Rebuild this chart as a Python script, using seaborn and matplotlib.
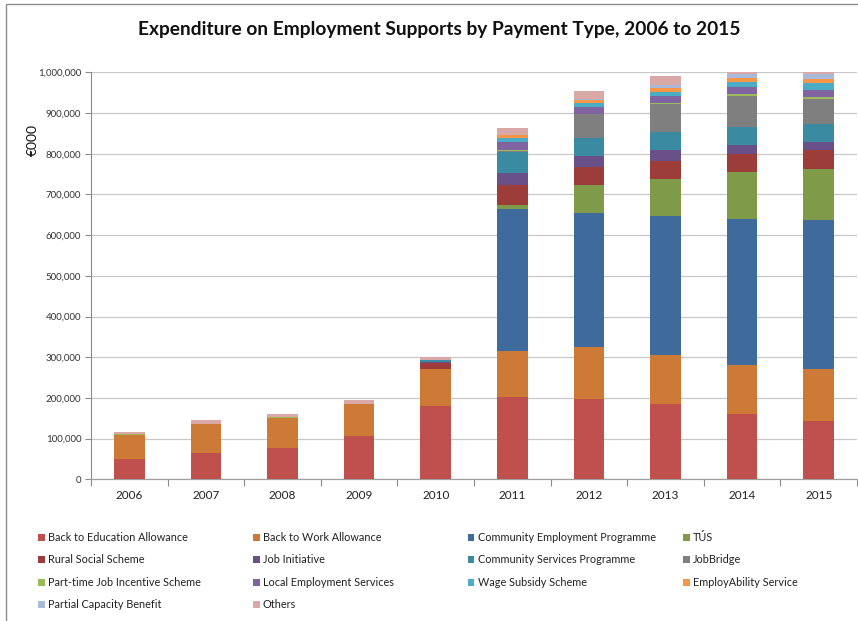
import matplotlib
matplotlib.use("Agg")
import matplotlib.pyplot as plt
import seaborn as sns
import numpy as np
from matplotlib.patches import Patch, Rectangle
from matplotlib.ticker import FuncFormatter, FixedLocator

years = ["2006", "2007", "2008", "2009", "2010", "2011", "2012", "2013", "2014", "2015"]

series_names = [
    "Back to Education Allowance", "Back to Work Allowance", "Community Employment Programme", "TÚS",
    "Rural Social Scheme", "Job Initiative", "Community Services Programme", "JobBridge",
    "Part-time Job Incentive Scheme", "Local Employment Services", "Wage Subsidy Scheme", "EmployAbility Service",
    "Partial Capacity Benefit", "Others",
]

back_to_education = [50000, 64000, 78000, 107000, 180500, 201600, 198000, 186000, 161500, 143400]
back_to_work      = [59000, 71000, 73000, 77500, 91500, 114000, 128000, 120000, 119500, 128600]
community_employment = [0, 0, 0, 0, 0, 348400, 329000, 340000, 359000, 365800]
tus               = [0, 0, 0, 0, 0, 10700, 67400, 92800, 115000, 125700]
rural_social      = [0, 0, 0, 0, 13000, 47700, 45200, 44200, 45000, 45000]
job_initiative    = [0, 0, 0, 0, 2800, 29600, 26200, 25600, 22500, 20500]
community_services = [0, 0, 0, 0, 5700, 51000, 46000, 44400, 43000, 43500]
jobbridge         = [0, 0, 0, 0, 0, 4000, 56700, 68000, 76500, 62500]
part_time_jis     = [2500, 2000, 1500, 1500, 0, 3000, 1500, 3400, 3500, 3500]
local_employment  = [0, 0, 0, 0, 0, 18500, 15800, 17300, 17500, 19000]
wage_subsidy      = [0, 0, 0, 0, 0, 9500, 10600, 10700, 13500, 16000]
employability     = [0, 0, 0, 0, 0, 7000, 8200, 9800, 9500, 10000]
partial_capacity  = [0, 0, 0, 0, 0, 0, 1400, 7400, 10000, 12000]
others            = [5000, 9000, 9000, 9000, 6500, 19000, 20800, 22200, 7000, 6500]

series_values = [
    back_to_education, back_to_work, community_employment, tus,
    rural_social, job_initiative, community_services, jobbridge,
    part_time_jis, local_employment, wage_subsidy, employability,
    partial_capacity, others,
]

colors = [
    "#C0504D", "#CC7A36", "#3F6A9C", "#7F9A48",
    "#9C3D3A", "#6A5088", "#3A8BA2", "#7F7F7F",
    "#9BBB59", "#8064A2", "#4BACC6", "#F79646",
    "#A9B9DA", "#DBA8A8",
]

yticks = list(range(0, 1000001, 100000))

sns.set_theme(style="white")
FONT = ["Lato", "DejaVu Sans"]
plt.rcParams["font.family"] = FONT

fig = plt.figure(figsize=(8.58, 6.21), dpi=100)
ax = fig.add_axes([91 / 858, 1 - 479.3 / 621, 766 / 858, (479.3 - 72.3) / 621])

bottom = np.zeros(len(years))
for name, vals, col in zip(series_names, series_values, colors):
    sns.barplot(x=years, y=vals, bottom=bottom, color=col, saturation=1,
                width=0.4, errorbar=None, ax=ax, linewidth=0, zorder=3)
    bottom = bottom + np.array(vals, dtype=float)

ax.set_xlim(-0.5, len(years) - 0.5)
ax.set_ylim(0, 1000000)
ax.yaxis.set_major_locator(FixedLocator(yticks))
ax.yaxis.set_major_formatter(FuncFormatter(lambda v, p: f"{int(v):,}"))
ax.grid(axis="y", color="#C8C8C8", linewidth=0.9, zorder=0)
ax.grid(axis="x", visible=False)
ax.set_axisbelow(True)
ax.set_xlabel("")
ax.set_ylabel("")

for s in ["top", "right"]:
    ax.spines[s].set_visible(False)
ax.spines["left"].set_color("#8C8C8C")
ax.spines["left"].set_linewidth(0.8)
ax.spines["bottom"].set_color("#A0A0A0")
ax.spines["bottom"].set_linewidth(0.9)

ax.tick_params(axis="y", which="major", length=4, width=0.8, color="#8C8C8C",
               labelsize=7, labelcolor="#333333", pad=3, left=True)
ax.tick_params(axis="x", which="major", length=0, labelsize=8.5, labelcolor="#222222", pad=8)
ax.set_xticks(np.arange(-0.5, len(years), 1.0), minor=True)
ax.tick_params(axis="x", which="minor", length=5, width=0.8, color="#8C8C8C", bottom=True)

fig.text(439.5 / 858, 1 - 29 / 621, "Expenditure on Employment Supports by Payment Type, 2006 to 2015",
         ha="center", va="center", fontsize=13.8, fontweight="bold", color="#111111")
fig.text(33 / 858, 1 - 140 / 621, "€000", rotation=90, ha="center", va="center",
         fontsize=10, color="#111111")

# legend: 4 columns, row-major order
col_x = [38, 253, 468, 683]
ncol = 4
handles = [Patch(facecolor=c, edgecolor="none") for c in colors]
for c in range(ncol):
    idx = list(range(c, len(series_names), ncol))
    leg = fig.legend([handles[i] for i in idx], [series_names[i] for i in idx],
                     loc="upper left", bbox_to_anchor=(col_x[c] / 858, 1 - 532 / 621),
                     frameon=False, fontsize=7.8, handlelength=0.6, handleheight=0.6,
                     handletextpad=0.3, labelspacing=1.06, borderpad=0, borderaxespad=0)
    for t in leg.get_texts():
        t.set_color("#222222")

fig.patches.append(Rectangle((6 / 858, -0.1), 2, 1 - 4 / 621 + 0.1, transform=fig.transFigure,
                             fill=False, edgecolor="#8C8C8C", linewidth=1.0))

fig.savefig("out.png", dpi=100, facecolor="white")
